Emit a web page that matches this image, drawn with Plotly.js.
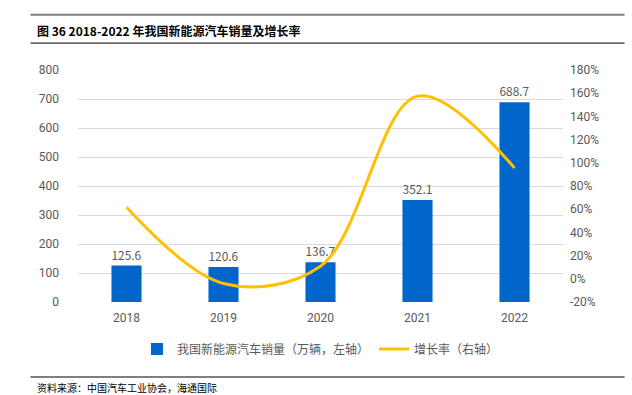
<!DOCTYPE html>
<html>
<head>
<meta charset="utf-8">
<script src="https://cdn.plot.ly/plotly-3.0.1.min.js"></script>
<style>body{margin:0;padding:0;background:#fff;}#chart{width:632px;height:395px;}</style>
</head>
<body>
<div id="chart"></div>
<script>
const years = ['2018', '2019', '2020', '2021', '2022'];
const sales = [125.6, 120.6, 136.7, 352.1, 688.7];
const growth = [61.7, -4.0, 10.9, 157.5, 95.6];
const salesLabels = ['125.6', '120.6', '136.7', '352.1', '688.7'];
const leftTicks = [0, 100, 200, 300, 400, 500, 600, 700, 800];
const rightTicks = [-20, 0, 20, 40, 60, 80, 100, 120, 140, 160, 180];

const cjk = '"Noto Sans CJK SC", "Noto Sans", sans-serif';
const tickFont = {family: 'Roboto, "Liberation Sans", sans-serif', size: 12, color: '#595959'};

const traces = [
  {
    type: 'bar', x: years, y: sales, name: '我国新能源汽车销量（万辆，左轴）',
    marker: {color: '#0066CC'}, width: 0.31,
    text: salesLabels, textposition: 'outside', cliponaxis: false,
    textfont: {family: cjk, size: 12, color: '#595959'},
    hoverinfo: 'none'
  },
  {
    type: 'scatter', mode: 'lines', x: years, y: growth, yaxis: 'y2',
    name: '增长率（右轴）',
    line: {color: '#FFC000', width: 3, shape: 'spline', smoothing: 1},
    hoverinfo: 'none'
  }
];

const layout = {
  width: 632, height: 395,
  margin: {l: 78, r: 69, t: 70, b: 93},
  paper_bgcolor: '#fff', plot_bgcolor: '#fff',
  showlegend: true,
  legend: {orientation: 'h', x: 0.5, xanchor: 'center', y: -0.14, yanchor: 'top',
           font: {family: cjk, size: 12, color: '#595959'}, traceorder: 'normal'},
  bargap: 0.69,
  xaxis: {type: 'category', tickfont: tickFont, showgrid: false, zeroline: false,
          showline: false, ticks: '', ticklen: 0, ticklabelstandoff: 7},
  yaxis: {range: [0, 800], tickvals: leftTicks, tickfont: tickFont,
          gridcolor: '#d9d9d9', gridwidth: 1, zeroline: false, showline: false,
          ticks: '', ticklabelstandoff: 18},
  yaxis2: {overlaying: 'y', side: 'right', range: [-20, 180], tickvals: rightTicks,
           ticktext: rightTicks.map(v => v + '%'), tickfont: tickFont,
           showgrid: false, zeroline: false, showline: false, ticks: '', ticklabelstandoff: 6},
  shapes: [
    {type: 'line', xref: 'paper', yref: 'paper', x0: -0.098, x1: 1.127, y0: 1.238, y1: 1.238,
     line: {color: '#7f7f7f', width: 2}},
    {type: 'line', xref: 'paper', yref: 'paper', x0: -0.098, x1: 1.127, y0: 1.116, y1: 1.116,
     line: {color: '#000', width: 1}},
    {type: 'line', xref: 'paper', yref: 'paper', x0: -0.098, x1: 1.127, y0: -0.323, y1: -0.323,
     line: {color: '#7f7f7f', width: 2}}
  ],
  annotations: [
    {xref: 'paper', yref: 'paper', x: -0.088, y: 1.172, xanchor: 'left', yanchor: 'middle',
     text: '<b>图 36 2018-2022 年我国新能源汽车销量及增长率</b>', showarrow: false,
     font: {family: cjk, size: 12, color: '#000'}},
    {xref: 'paper', yref: 'paper', x: -0.088, y: -0.37, xanchor: 'left', yanchor: 'middle',
     text: '资料来源：中国汽车工业协会，海通国际', showarrow: false,
     font: {family: cjk, size: 10, color: '#000'}}
  ]
};

Plotly.newPlot('chart', traces, layout, {displayModeBar: false, staticPlot: true});
</script>
</body>
</html>
